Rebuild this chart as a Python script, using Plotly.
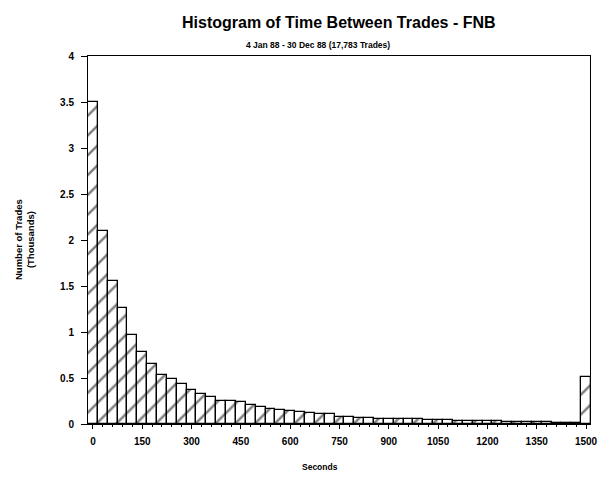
import plotly.graph_objects as go

# Bin centres (seconds) and counts (thousands of trades)
seconds = list(range(0, 1501, 30))
trades_k = [
    3.50, 2.10, 1.55, 1.26, 0.965, 0.78, 0.655, 0.53, 0.49, 0.435,
    0.37, 0.33, 0.29, 0.25, 0.255, 0.24, 0.21, 0.18, 0.165, 0.15,
    0.145, 0.13, 0.12, 0.11, 0.105, 0.08, 0.075, 0.07, 0.06, 0.058,
    0.055, 0.055, 0.05, 0.05, 0.045, 0.04, 0.04, 0.038, 0.035, 0.03,
    0.03, 0.028, 0.025, 0.025, 0.02, 0.02, 0.018, 0.015, 0.015, 0.012,
    0.51,
]
x_ticks = list(range(0, 1501, 150))
y_ticks = [0, 0.5, 1, 1.5, 2, 2.5, 3, 3.5, 4]
y_tick_text = ["0", "0.5", "1", "1.5", "2", "2.5", "3", "3.5", "4"]

title = "Histogram of Time Between Trades - FNB"
subtitle = "4 Jan 88 - 30 Dec 88 (17,783 Trades)"

FONT = "Liberation Sans"

fig = go.Figure()
fig.add_trace(go.Bar(
    x=seconds,
    y=trades_k,
    width=30,
    marker=dict(
        color="white",
        line=dict(color="black", width=1.3),
        pattern=dict(shape="/", fgcolor="black", bgcolor="white",
                     size=14, solidity=0.18),
    ),
    showlegend=False,
))

axis_common = dict(
    showgrid=False, zeroline=False, showline=True, linecolor="black",
    linewidth=1, mirror=True, ticks="outside", tickcolor="black",
    automargin=False,
    tickfont=dict(family=FONT, size=10, color="black", weight="bold"),
)

fig.update_xaxes(
    range=[-15, 1512], tickvals=x_ticks, ticklen=4, ticklabelstandoff=4,
    minor=dict(ticks="outside", dtick=30, tick0=0, ticklen=2, tickcolor="black"),
    **axis_common,
)
fig.update_yaxes(
    range=[0, 4], tickvals=y_ticks, ticktext=y_tick_text, ticklen=6,
    ticklabelstandoff=5,
    **axis_common,
)

fig.update_layout(
    width=601, height=478,
    margin=dict(l=88, r=11, t=56, b=54),
    plot_bgcolor="white", paper_bgcolor="white",
    bargap=0,
    annotations=[
        dict(text=title, xref="paper", yref="paper", x=0.5, y=1.0,
             yshift=34, showarrow=False, xanchor="center", yanchor="middle",
             font=dict(family=FONT, size=16, color="black", weight="bold")),
        dict(text=subtitle, xref="paper", yref="paper", x=0.459, y=1.0,
             yshift=11, showarrow=False, xanchor="center", yanchor="middle",
             font=dict(family=FONT, size=8.5, color="black", weight="bold")),
        dict(text="Number of Trades<br>(Thousands)", xref="paper", yref="paper",
             x=0, xshift=-64, y=0.5, showarrow=False, textangle=-90,
             xanchor="center", yanchor="middle",
             font=dict(family=FONT, size=9.5, color="black", weight="bold")),
        dict(text="Seconds", xref="paper", yref="paper", x=0.462, y=0,
             yshift=-43, showarrow=False, xanchor="center", yanchor="middle",
             font=dict(family=FONT, size=8.5, color="black", weight="bold")),
    ],
)

fig.write_html(
    "out.html",
    config={"displayModeBar": False},
    post_script="document.body.style.margin='0px';",
)
